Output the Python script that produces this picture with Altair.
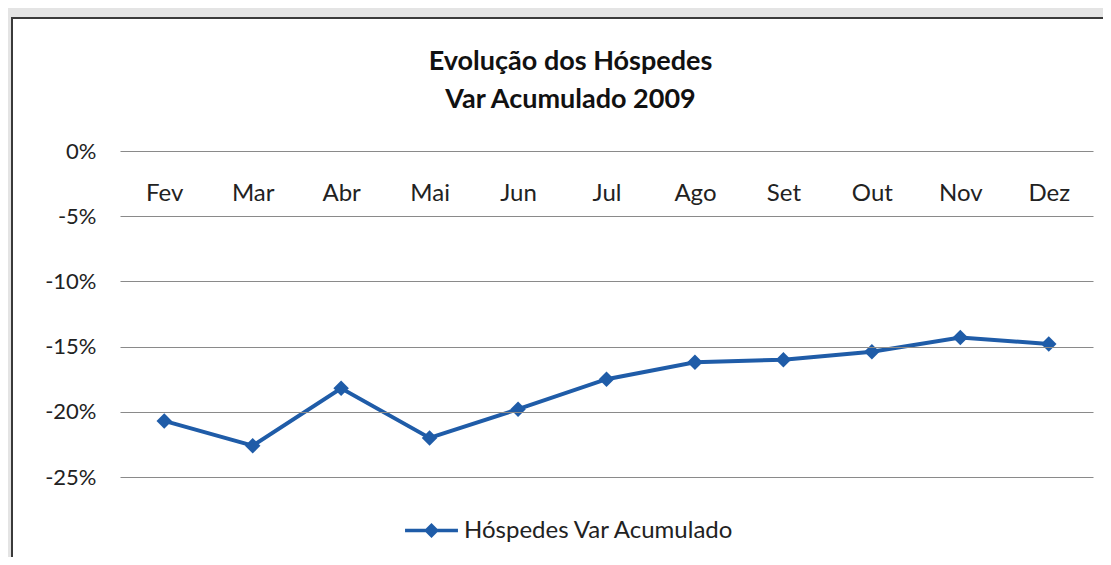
import altair as alt
import pandas as pd

months = ["Fev", "Mar", "Abr", "Mai", "Jun", "Jul", "Ago", "Set", "Out", "Nov", "Dez"]
values = [-20.7, -22.6, -18.2, -22.0, -19.8, -17.5, -16.2, -16.0, -15.4, -14.3, -14.8]
series = "Hóspedes Var Acumulado"
y_ticks = [0, -5, -10, -15, -20, -25]

df = pd.DataFrame({"mes": months, "valor": [v / 100 for v in values], "serie": series})

W, H = 973, 326
FONT = "Lato"
BLUE = "#1f5ca8"

base = alt.Chart(df)

frame = base.mark_rect(fill="white", stroke="#3a3a3a", strokeWidth=2).encode(
    x=alt.value(-108), x2=alt.value(W + 60), y=alt.value(-133), y2=alt.value(H + 120)
).transform_filter(alt.datum.mes == "Fev")

line = base.mark_line(
    color=BLUE, strokeWidth=4,
    point=alt.OverlayMarkDef(shape="diamond", size=240, filled=True, color=BLUE),
).encode(
    x=alt.X("mes:O", sort=months, title=None,
            axis=alt.Axis(orient="bottom", offset=-H, labelAngle=0, ticks=False, domain=False,
                          labelBaseline="middle", labelPadding=42, labelFontSize=24,
                          labelFont=FONT, labelColor="#222", zindex=1)),
    y=alt.Y("valor:Q", title=None,
            scale=alt.Scale(domain=[-0.25, 0], nice=False),
            axis=alt.Axis(values=[v / 100 for v in y_ticks], format=".0%", ticks=False,
                          labelExpr="replace(datum.label, '\u2212', '-')",
                          domain=False, labelPadding=24, labelFontSize=22, labelFont=FONT,
                          labelColor="#222", gridColor="#8a8a8a", gridWidth=1.2,
                          gridOpacity=1, zindex=1)),
    color=alt.Color("serie:N", scale=alt.Scale(range=[BLUE]), title=None,
                    legend=alt.Legend(orient="none", legendX=283, legendY=351,
                                      symbolType="M-1,0L1,0M0,-0.19L0.19,0L0,0.19L-0.19,0Z",
                                      symbolSize=2800, symbolStrokeWidth=3.5,
                                      symbolFillColor=BLUE, symbolStrokeColor=BLUE,
                                      labelFontSize=24, labelFont=FONT, labelColor="#222",
                                      labelLimit=500, labelOffset=4, zindex=1)),
)

chart = alt.layer(frame, line).properties(
    width=W, height=H,
    autosize=alt.AutoSizeParams(type="none"),
    padding={"left": 112, "top": 143, "right": 10, "bottom": 80},
    background="#e4e4e4",
    title=alt.Title(["Evolução dos Hóspedes", "Var Acumulado 2009"], fontSize=27,
                    font=FONT, fontWeight="bold", color="#111", anchor="middle",
                    dx=-36, dy=127, offset=30, lineHeight=38, zindex=1),
).configure_view(stroke=None)

chart.save("out.html", embed_options={"renderer": "svg", "actions": False})
